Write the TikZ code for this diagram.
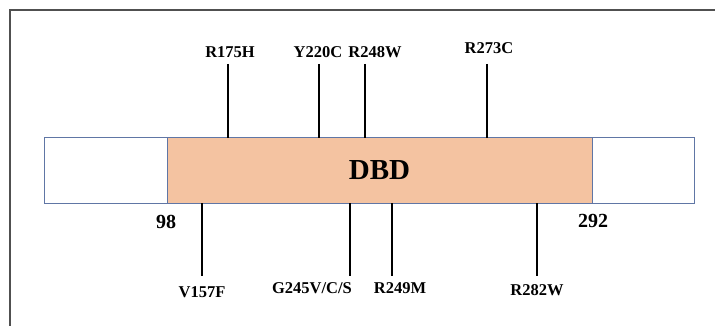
\documentclass[tikz,border=0pt]{standalone}
\usepackage{fontspec}
\setmainfont{Liberation Serif}
\usepackage{tikz}
\usetikzlibrary{positioning,calc}
\definecolor{domfill}{RGB}{244,195,161}
\definecolor{domline}{RGB}{96,118,165}
\definecolor{framecol}{RGB}{80,80,80}

\begin{document}
\begin{tikzpicture}[x=1pt,y=-1pt,
  seg/.style={draw=domline,line width=1pt,minimum height=65pt,inner sep=0pt,outer sep=0pt},
  mut/.style={font=\fontsize{16.5}{18}\selectfont\bfseries,inner sep=0pt},
  bnd/.style={font=\fontsize{20}{22}\selectfont\bfseries,inner sep=0pt},
  stem/.style={line width=1.6pt,black}]
  \useasboundingbox (0,0) rectangle (715,326);
  % open frame, top and left only
  \draw[framecol,line width=1.5pt] (10,326) -- (10,10) -- (715,10);
  % protein bar
  \node[seg,fill=domfill,minimum width=425pt,anchor=north west] (dbd) at (167,138)
     {\fontsize{29}{31}\selectfont\bfseries DBD};
  \node[seg,fill=white,minimum width=123pt,anchor=north east] (nterm) at (dbd.north west) {};
  \node[seg,fill=white,minimum width=102pt,anchor=north west] (cterm) at (dbd.north east) {};
  % domain bounds
  \node[bnd] (b98) at (166,222) {98};
  \node[bnd] (b292) at (593,221) {292};
  % mutations above
  \node[mut] (r175h) at (230,52) {R175H};
  \node[mut] (y220c) at (318,52) {Y220C};
  \node[mut] (r248w) at (375,52) {R248W};
  \node[mut] (r273c) at (489,48) {R273C};
  \coordinate (s175) at (228,64);
  \coordinate (s220) at (319,64);
  \coordinate (s248) at (365,64);
  \coordinate (s273) at (487,64);
  \draw[stem] (s175) -- (s175 |- dbd.north);
  \draw[stem] (s220) -- (s220 |- dbd.north);
  \draw[stem] (s248) -- (s248 |- dbd.north);
  \draw[stem] (s273) -- (s273 |- dbd.north);
  % mutations below
  \node[mut] (v157f) at (202,292) {V157F};
  \node[mut] (g245) at (312,288) {G245V/C/S};
  \node[mut] (r249m) at (400,288) {R249M};
  \node[mut] (r282w) at (537,290) {R282W};
  \coordinate (s157) at (202,276);
  \coordinate (s245) at (350,276);
  \coordinate (s249) at (392,276);
  \coordinate (s282) at (537,276);
  \draw[stem] (s157 |- dbd.south) -- (s157);
  \draw[stem] (s245 |- dbd.south) -- (s245);
  \draw[stem] (s249 |- dbd.south) -- (s249);
  \draw[stem] (s282 |- dbd.south) -- (s282);
\end{tikzpicture}
\end{document}
